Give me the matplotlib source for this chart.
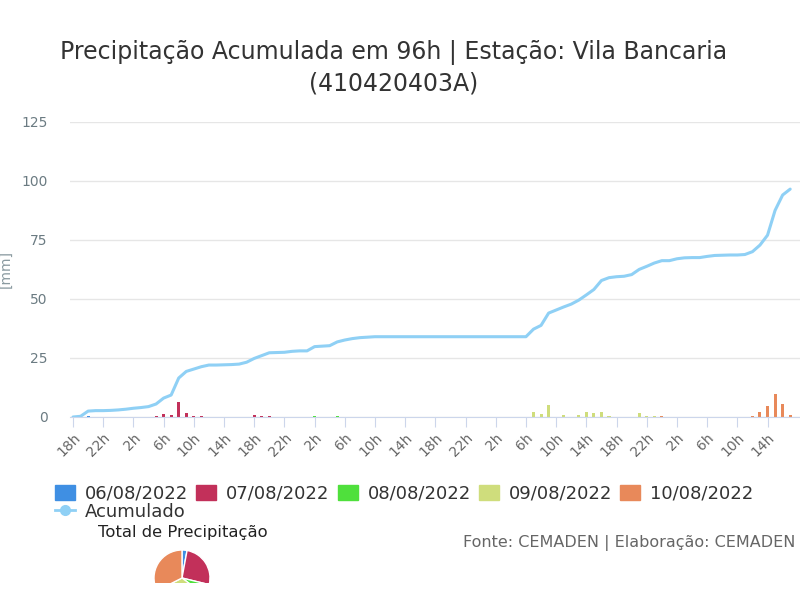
import numpy as np
import matplotlib
matplotlib.use('Agg')
from matplotlib import pyplot as plt
from matplotlib.lines import Line2D
from matplotlib.patches import Patch

# hourly data, index 0 = 18h of 06/08/2022
dias = ['06/08/2022', '07/08/2022', '08/08/2022', '09/08/2022', '10/08/2022']
cores = ['#3f8fe3', '#c2305a', '#4fe03c', '#cfdd7c', '#e8895a']

chuva = [0, 0, 0.6, 0, 0, 0,
         0, 0, 0, 0, 0, 0.5, 1.4, 0.8, 6.4, 1.7, 0.4, 0.4,
         0, 0, 0, 0, 0, 0, 0.8, 0.4, 0.4, 0, 0, 0,
         0, 0, 0.6, 0, 0, 0.6, 0, 0, 0, 0, 0, 0,
         0, 0, 0, 0, 0, 0, 0, 0, 0, 0, 0, 0,
         0, 0, 0, 0, 0, 0, 0, 2.1, 1.1, 5.1, 0, 0.8,
         0, 0.8, 2.1, 1.5, 2.1, 0.3, 0, 0, 0, 1.5, 0.4, 0.4,
         0.4, 0, 0, 0, 0, 0, 0, 0, 0, 0, 0, 0,
         0.4, 2.0, 4.5, 9.6, 5.6, 0.8]

acumulado = [0, 0.3, 2.5, 2.7, 2.7, 2.8,
             3.0, 3.3, 3.7, 4.0, 4.4, 5.5, 8.0, 9.3, 16.5, 19.3, 20.3, 21.3,
             22.0, 22.0, 22.1, 22.2, 22.4, 23.2, 24.8, 26.0, 27.2, 27.3, 27.4, 27.8,
             28.0, 28.0, 29.8, 30.0, 30.2, 31.8, 32.6, 33.2, 33.6, 33.8, 34.0, 34.0,
             34.0, 34.0, 34.0, 34.0, 34.0, 34.0, 34.0, 34.0, 34.0, 34.0, 34.0, 34.0,
             34.0, 34.0, 34.0, 34.0, 34.0, 34.0, 34.0, 37.2, 38.8, 44.0, 45.3, 46.6,
             47.8, 49.5, 51.7, 54.0, 57.8, 59.0, 59.4, 59.6, 60.3, 62.5, 63.8, 65.2,
             66.2, 66.2, 67.0, 67.4, 67.5, 67.5, 68.0, 68.4, 68.5, 68.6, 68.6, 68.8,
             70.0, 72.8, 77.0, 87.5, 94.0, 96.5]

horas = np.arange(len(acumulado))
dia_idx = (horas + 18) // 24
rotulos = [f'{(18 + h) % 24}h' for h in range(0, 96, 4)]

# total per day from the accumulated curve
fim_dia = [5, 29, 53, 77, 95]
totais = np.diff([0] + [acumulado[i] for i in fim_dia])

fig = plt.figure(figsize=(8, 6), dpi=100)
ax = fig.add_axes([0.0875, 0.305, 0.9125, 0.492])

ax.bar(horas, chuva, width=0.4, color=[cores[d] for d in dia_idx], zorder=2)
ax.plot(horas, acumulado, color='#8fd0f5', lw=2.2, zorder=3, solid_capstyle='round')

ax.set_xlim(-0.4, 96.3)
ax.set_ylim(0, 125)
ax.set_yticks([0, 25, 50, 75, 100, 125])
ax.set_xticks(range(0, 96, 4))
ax.set_xticklabels(rotulos, rotation=45, ha='right', rotation_mode='anchor')
ax.grid(axis='y', color='#e6e6e6', lw=1, zorder=0)
ax.set_axisbelow(True)
for s in ['left', 'right', 'top']:
    ax.spines[s].set_visible(False)
ax.spines['bottom'].set_color('#ccd6eb')
ax.tick_params(axis='x', length=7, color='#ccd6eb', labelcolor='#666666',
               labelsize=10, pad=3)
ax.tick_params(axis='y', length=0, labelcolor='#6b7b82', labelsize=10, pad=16)
ax.set_ylabel('[mm]', color='#8a9aa0', fontsize=10, labelpad=12)
ax.yaxis.set_label_coords(-0.078, 0.5)

fig.text(0.4925, 0.912, 'Precipitação Acumulada em 96h | Estação: Vila Bancaria',
         ha='center', va='center', fontsize=17, color='#333333')
fig.text(0.4925, 0.861, '(410420403A)', ha='center', va='center',
         fontsize=17, color='#333333')

handles = [Patch(color=c) for c in cores]
acum_h = Line2D([], [], color='#8fd0f5', lw=2, marker='o', markersize=7)
ordem = [handles[0], acum_h] + handles[1:]
nomes = [dias[0], 'Acumulado'] + dias[1:]
fig.legend(ordem, nomes, ncol=5, loc='upper left', bbox_to_anchor=(0.069, 0.192),
           frameon=False, fontsize=13, handlelength=1.1, handleheight=0.9,
           handletextpad=0.55, columnspacing=0.45, labelspacing=0.0,
           borderaxespad=0, borderpad=0, labelcolor='#333333')

fig.text(0.1225, 0.113, 'Total de Precipitação', ha='left', va='center',
         fontsize=11.8, color='#222222')
fig.text(0.994, 0.095, 'Fonte: CEMADEN | Elaboração: CEMADEN', ha='right',
         va='center', fontsize=11.5, color='#666666')

# small pie, cut at the bottom like the original
pax = fig.add_axes([(182 - 40) / 800, 1 - 583 / 600, 80 / 800, 43 / 600])
fatias, _ = pax.pie(totais, colors=cores, startangle=90, counterclock=False,
                    wedgeprops=dict(edgecolor='white', linewidth=1))
for f in fatias:
    f.set_clip_on(True)
    f.set_clip_path(pax.patch)
pax.set_aspect('auto')
pax.set_xlim(-40 / 28, 40 / 28)
pax.set_ylim(-5 / 28, 38 / 28)
pax.axis('off')

fig.savefig('out.png', dpi=100)
